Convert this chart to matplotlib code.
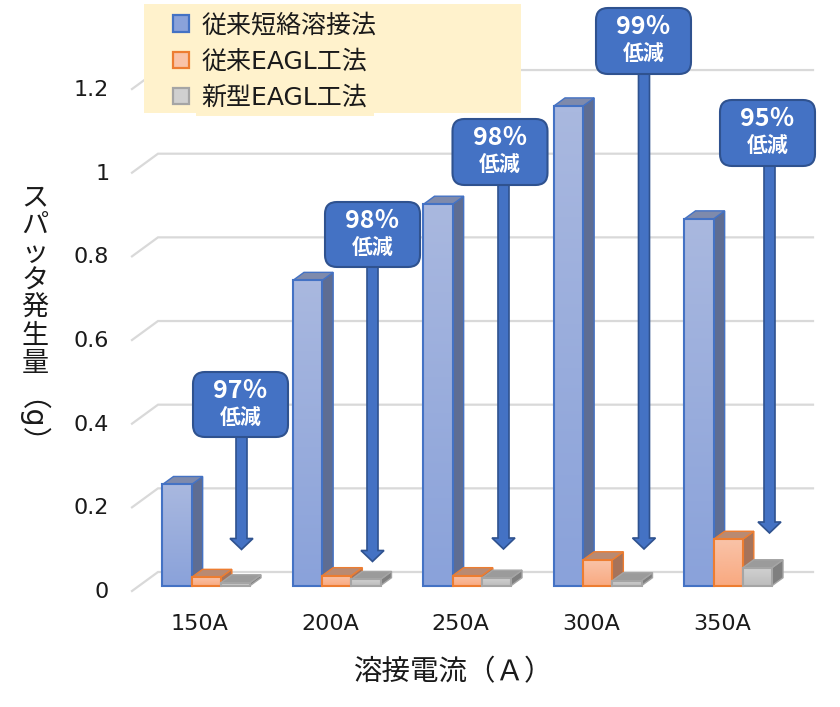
import numpy as np
import matplotlib
matplotlib.use("Agg")
import matplotlib.pyplot as plt
from matplotlib.patches import Polygon, Rectangle, FancyBboxPatch, Patch
from matplotlib.transforms import ScaledTranslation

plt.rcParams['font.family'] = ['DejaVu Sans', 'Noto Sans CJK JP']

categories = ['150A', '200A', '250A', '300A', '350A']
conventional_short = [0.242, 0.730, 0.912, 1.147, 0.877]
conventional_eagl = [0.020, 0.024, 0.024, 0.062, 0.111]
new_eagl = [0.007, 0.015, 0.018, 0.012, 0.043]
series_names = ['従来短絡溶接法', '従来EAGL工法', '新型EAGL工法']
y_ticks = [0, 0.2, 0.4, 0.6, 0.8, 1.0, 1.2]
y_tick_labels = ['0', '0.2', '0.4', '0.6', '0.8', '1', '1.2']
reductions = ['97％', '98％', '98％', '99％', '95％']

W, H = 840, 707
fig = plt.figure(figsize=(W / 100, H / 100), dpi=100, facecolor='white')

# plot axes: y=0 at px 585.7, 418.3 px/unit; groups 130.5 px apart
AX_L, AX_R, AX_T, AX_B = 112, 830, 0, 600
ax = fig.add_axes([AX_L / W, 1 - AX_B / H, (AX_R - AX_L) / W, (AX_B - AX_T) / H])
PX_X, PX_Y = 130.5, 418.3
xlim = ((AX_L - 206.25) / PX_X, (AX_R - 206.25) / PX_X)
ylim = ((585.7 - AX_B) / PX_Y, (585.7 - AX_T) / PX_Y)
ax.patch.set_alpha(0)
for s in ax.spines.values():
    s.set_visible(False)

bar_w = 29.17 / PX_X
dx, dy = 11 / PX_X, 8 / PX_Y

# floor and wall grid
gx0, gx1, gx2 = (132 - 206.25) / PX_X, (158 - 206.25) / PX_X, (813 - 206.25) / PX_X
gy0, gy1 = -5.3 / PX_Y, 13.7 / PX_Y
for t in y_ticks:
    ax.plot([gx0, gx1, gx2], [t + gy0, t + gy1, t + gy1], color='#D9D9D9', lw=1.6,
            zorder=1, clip_on=False, solid_joinstyle='miter')

styles = [
    dict(top='#A9B8DF', bot='#8AA2DA', edge='#4472C4', side='#5E6D93', cap='#7E8AAC'),
    dict(top='#F9C3A8', bot='#F9A980', edge='#ED7D31', side='#A6735A', cap='#B98A72'),
    dict(top='#D0D0D0', bot='#BDBDBD', edge='#A5A5A5', side='#7F7F7F', cap='#9B9B9B'),
]
all_series = [conventional_short, conventional_eagl, new_eagl]

for j, (vals, st) in enumerate(zip(all_series, styles)):
    cmap = matplotlib.colors.LinearSegmentedColormap.from_list('g', [st['bot'], st['top']])
    for i, v in enumerate(vals):
        x0 = i + (j - 1.5) * bar_w
        x1 = x0 + bar_w
        z = 3 + j * 0.1
        ax.add_patch(Polygon([(x1, 0), (x1 + dx, dy), (x1 + dx, v + dy), (x1, v)],
                             fc=st['side'], ec=st['edge'], lw=1.0, zorder=z))
        ax.add_patch(Polygon([(x0, v), (x1, v), (x1 + dx, v + dy), (x0 + dx, v + dy)],
                             fc=st['cap'], ec=st['edge'], lw=1.0, zorder=z))
        ax.imshow(np.linspace(1, 0, 64).reshape(-1, 1), cmap=cmap, aspect='auto',
                  extent=(x0, x1, 0, v), zorder=z + 0.01, interpolation='bilinear')
        ax.bar(x0, v, width=bar_w, align='edge', fill=False, edgecolor=st['edge'],
               linewidth=1.5, zorder=z + 0.02)

ax.set_xlim(xlim)
ax.set_ylim(ylim)
ax.set_yticks(y_ticks)
ax.set_yticklabels(y_tick_labels, fontsize=16, color='#1A1A1A')
ax.set_xticks(range(len(categories)))
ax.set_xticklabels(categories, fontsize=16, color='#1A1A1A')
ax.tick_params(length=0, axis='y', pad=2)
ax.tick_params(length=0, axis='x', pad=10)
off_y = ScaledTranslation(0, -4.3 / 100, fig.dpi_scale_trans)
off_x = ScaledTranslation(-6.5 / 100, 0, fig.dpi_scale_trans)
for lb in ax.get_yticklabels():
    lb.set_transform(lb.get_transform() + off_y)
for lb in ax.get_xticklabels():
    lb.set_transform(lb.get_transform() + off_x)

# overlay in pixel coordinates for callouts and legend backing
ov = fig.add_axes([0, 0, 1, 1], zorder=5)
ov.set_xlim(0, W)
ov.set_ylim(H, 0)
ov.axis('off')

ov.add_patch(Rectangle((144, 4), 377, 109, fc='#FFF2CC', ec='none', zorder=1))
ov.add_patch(Rectangle((196, 100), 178, 16, fc='#FFF2CC', ec='none', zorder=1))

handles = [Patch(fc=st['bot'] if k == 0 else st['top'], ec=st['edge'], lw=1.6) for k, st in enumerate(styles)]
leg = ov.legend(handles, series_names, loc='upper left', bbox_to_anchor=(173 / W, 1 - 13.5 / H),
                bbox_transform=fig.transFigure, frameon=False, fontsize=18,
                handlelength=0.64, handleheight=0.64, handletextpad=0.5,
                labelspacing=0.49, borderpad=0, borderaxespad=0)
leg.set_zorder(3)
for t in leg.get_texts():
    t.set_color('#1A1A1A')

# callouts: box centre x, arrow centre x, box top, box bottom, arrow tip
callouts = [(240.5, 241.5, 372, 437, 549.5), (372.5, 372.5, 202, 267, 561.5),
            (500, 503.5, 119, 185, 549), (643.5, 644, 8, 74, 549),
            (767.5, 769.5, 100, 166, 533)]
box_w = 95
for (bx, cx, top, bot, tip), pct in zip(callouts, reductions):
    sw, hw, hl = 5.5, 11.5, 11
    pts = [(cx - sw, bot), (cx + sw, bot), (cx + sw, tip - hl), (cx + hw, tip - hl), (cx, tip),
           (cx - hw, tip - hl), (cx - sw, tip - hl)]
    ov.add_patch(Polygon(pts, fc='#4472C4', ec='#2F528F', lw=1.2, zorder=4, joinstyle='miter'))
    ov.add_patch(FancyBboxPatch((bx - box_w / 2 + 10, top + 10), box_w - 20, bot - top - 20,
                                boxstyle='round,pad=10,rounding_size=12', fc='#4472C4',
                                ec='#2F528F', lw=1.5, zorder=5))
    ov.text(bx, top + 19, pct, color='white', fontsize=18, fontweight='bold',
            family=['Noto Sans CJK JP', 'DejaVu Sans'], ha='center', va='center', zorder=6)
    ov.text(bx, top + 46, '低減', color='white', fontsize=15, fontweight='bold',
            ha='center', va='center', zorder=6)

# axis titles
ov.text(354, 672, '溶接電流（Ａ）', fontsize=20.5, ha='left', va='center', color='#1A1A1A')
ov.text(35, 281.5, '\n'.join('スパッタ発生量'), fontsize=19.5, ha='center', va='center',
        color='#1A1A1A', linespacing=1.08)
ov.text(15, 437, '（g）', fontsize=20.5, rotation=-90, ha='center', va='center', color='#1A1A1A')

fig.savefig('out.png', dpi=100)
